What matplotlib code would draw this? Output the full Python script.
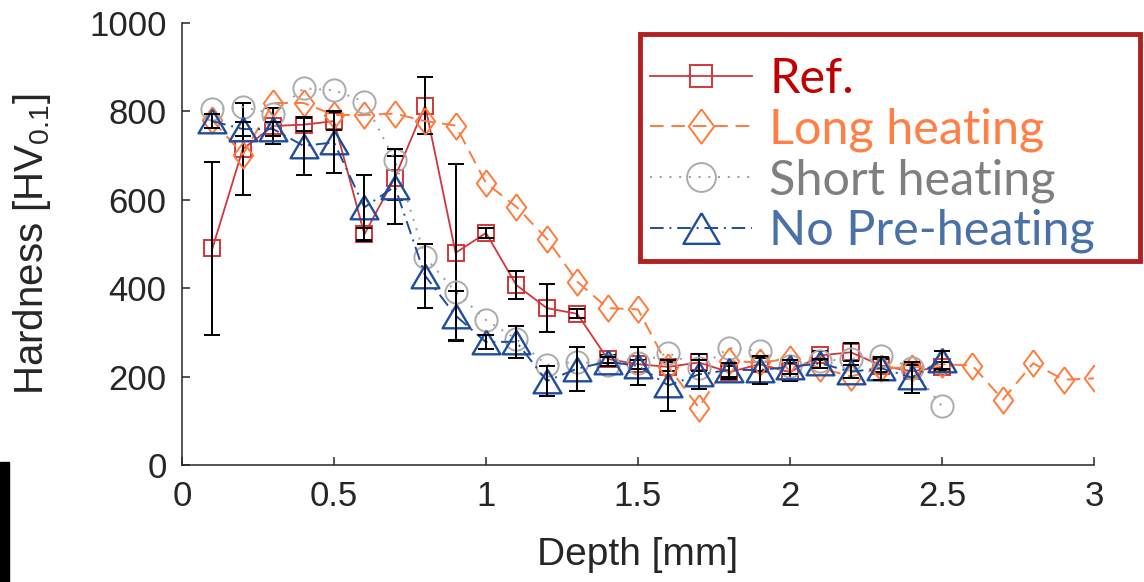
import matplotlib.pyplot as plt
from matplotlib.patches import Rectangle

# --- data ---
depth = [0.1, 0.2, 0.3, 0.4, 0.5, 0.6, 0.7, 0.8, 0.9, 1.0,
         1.1, 1.2, 1.3, 1.4, 1.5, 1.6, 1.7, 1.8, 1.9, 2.0,
         2.1, 2.2, 2.3, 2.4, 2.5]
depth_long = depth + [2.6, 2.7, 2.8, 2.9, 3.0]

hv_ref = [490, 715, 767, 770, 778, 522, 650, 813, 480, 525,
          407, 355, 342, 240, 228, 222, 232, 210, 228, 210,
          248, 255, 225, 212, 222]
err_ref = [195, 105, 40, 15, 20, 15, 50, 64, 200, 12,
           32, 54, 10, 10, 10, 10, 20, 15, 15, 20,
           10, 20, 15, 15, 10]

hv_long = [780, 702, 819, 819, 792, 792, 795, 778, 768, 638,
           584, 512, 415, 355, 352, 222, 130, 235, 232, 240,
           220, 200, 220, 220, 228, 225, 148, 230, 193, 196]

hv_short = [805, 810, 795, 852, 848, 822, 690, 470, 392, 328,
            285, 226, 234, 226, 230, 254, 220, 265, 258, 225,
            235, 240, 247, 220, 133]

hv_nopre = [778, 760, 760, 722, 730, 583, 630, 428, 338, 278,
            279, 190, 218, 234, 224, 180, 205, 215, 215, 222,
            230, 211, 219, 198, 237]
err_nopre = [15, 15, 15, 65, 70, 73, 85, 72, 55, 15,
             36, 34, 50, 10, 42, 57, 32, 15, 32, 15,
             10, 15, 26, 34, 20]

labels = ['Ref.', 'Long heating', 'Short heating', 'No Pre-heating']
line_colors = ['#D2363A', '#FF7A3C', '#ABABAB', '#1F4C9C']
text_colors = ['#C00000', '#FF7F45', '#7F7F7F', '#4A70A8']

# --- styling ---
plt.rcParams['font.family'] = ['Liberation Sans', 'DejaVu Sans']
plt.rcParams['mathtext.fontset'] = 'custom'
plt.rcParams['mathtext.rm'] = 'Liberation Sans'
plt.rcParams['mathtext.it'] = 'Liberation Sans'
axis_color = '#262626'
W, H = 1144, 582

diamond = [(0, 1), (0.74, 0), (0, -1), (-0.74, 0), (0, 1)]
triangle = [(0, 0.85), (1, -0.85), (-1, -0.85), (0, 0.85)]

fig = plt.figure(figsize=(W / 100, H / 100), dpi=100)
ax = fig.add_axes([182 / W, 117 / H, 912 / W, 442 / H])

h_ref, = ax.plot(depth, hv_ref, color=line_colors[0], lw=1.3, ls='-',
                 marker='s', ms=12, mfc='none', mec=line_colors[0], mew=1.4)
ax.errorbar(depth, hv_ref, yerr=err_ref, fmt='none', ecolor='k',
            elinewidth=1.4, capsize=6, capthick=1.4)

h_long, = ax.plot(depth_long, hv_long, color=line_colors[1], lw=1.4,
                  ls=(0, (7, 4)), marker=diamond, ms=19, mfc='none',
                  mec=line_colors[1], mew=1.4)

h_short, = ax.plot(depth, hv_short, color='#9A9A9A', lw=1.4, ls=(0, (1, 4)),
                   marker='o', ms=16, mfc='none', mec=line_colors[2], mew=1.4)

h_nopre, = ax.plot(depth, hv_nopre, color=line_colors[3], lw=1.4,
                   ls=(0, (7, 3, 1, 3)), marker=triangle, ms=20, mfc='none',
                   mec=line_colors[3], mew=1.7)
ax.errorbar(depth, hv_nopre, yerr=err_nopre, fmt='none', ecolor='k',
            elinewidth=1.4, capsize=6, capthick=1.4)

ax.set_xlim(0, 3)
ax.set_ylim(0, 1000)
ax.set_xticks([0, 0.5, 1, 1.5, 2, 2.5, 3])
ax.set_xticklabels(['0', '0.5', '1', '1.5', '2', '2.5', '3'])
ax.set_yticks([0, 200, 400, 600, 800, 1000])

for side in ['top', 'right']:
    ax.spines[side].set_visible(False)
for side in ['left', 'bottom']:
    ax.spines[side].set_color(axis_color)
    ax.spines[side].set_linewidth(1.1)
ax.tick_params(direction='in', length=6, width=1.1, color=axis_color,
               labelcolor=axis_color, labelsize=25, pad=11)

ax.set_xlabel('Depth [mm]', fontsize=28, color=axis_color, labelpad=17)
ax.set_ylabel('Hardness [HV$_{0.1}$]', fontsize=29, color=axis_color, labelpad=26)

# legend frame drawn by hand (the original has extra room on the right)
ax.add_patch(Rectangle((640 / W, 1 - 261 / H), 500 / W, 227 / H,
                       transform=fig.transFigure, clip_on=False, zorder=4.5,
                       facecolor='white', edgecolor='#B02222', lw=3.5))
leg = ax.legend([h_ref, h_long, h_short, h_nopre], labels,
                loc='upper left', bbox_to_anchor=(650 / W, 1 - 57 / H),
                bbox_transform=fig.transFigure, borderaxespad=0, borderpad=0,
                prop={'family': 'Lato', 'size': 35}, frameon=False,
                handlelength=2.1, labelspacing=0.13, markerscale=1.3,
                handletextpad=0.35)
for t, c in zip(leg.get_texts(), text_colors):
    t.set_color(c)

# black strip at the lower left edge of the original image
fig.patches.append(Rectangle((0, 0), 9 / W, 120 / H, transform=fig.transFigure,
                             color='black', zorder=5))

fig.savefig('out.png', dpi=100)
